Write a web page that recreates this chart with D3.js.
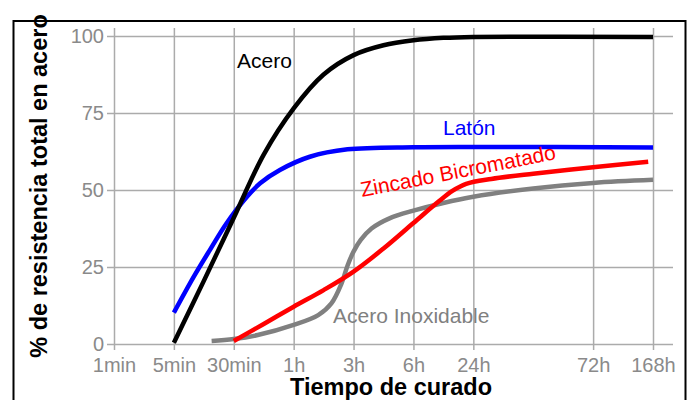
<!DOCTYPE html>
<html>
<head>
<meta charset="utf-8">
<script src="https://cdn.jsdelivr.net/npm/d3@7"></script>
<style>
  body { margin: 0; background: #fff; }
  svg { display: block; font-family: "Liberation Sans", Arial, sans-serif; }
  .axis text { fill: #8a8a8a; font-size: 20px; }
  .axis line { stroke: #ababab; stroke-width: 1.5; }
  .axis-title { font-weight: bold; font-size: 23.5px; fill: #000; }
  .curve { fill: none; stroke-width: 4.5; }
  .curve-label { font-size: 21px; }
</style>
</head>
<body>
<svg id="chart" width="692" height="400"></svg>
<script>
// x positions are slots on the time axis (72h sits two slots after 24h)
const tickLabels = ['1min', '5min', '30min', '1h', '3h', '6h', '24h', '72h', '168h'];
const tickSlots  = [0, 1, 2, 3, 4, 5, 6, 8, 9];
const yTicks = [0, 25, 50, 75, 100];

// [slot, % of steel strength]
const acero = [[1, 0.4], [1.5, 20.5], [2, 41], [2.5, 61.5], [3, 76.5], [3.5, 87.5],
  [4, 93.8], [4.5, 97], [5, 98.6], [5.5, 99.4], [6, 99.7], [9, 99.7]];
const laton = [[1, 10.2], [1.33, 21.8], [1.6, 30.5], [1.88, 39.2], [2.22, 47.8], [2.44, 52.2],
  [2.77, 56.5], [3.27, 60.8], [3.9, 63.2], [5, 63.9], [6, 64], [9, 63.8]];
const zincado = [[2, 1], [2.5, 6.5], [3, 12.1], [3.5, 17.5], [4, 23.5], [4.5, 31],
  [5, 39.3], [5.43, 46.4], [5.65, 49.7], [5.88, 52], [6.3, 53.6], [7, 55.3],
  [8, 57.4], [8.92, 59.2]];
const inoxidable = [[1.63, 1], [2, 1.6], [2.4, 2.9], [3, 6.2], [3.41, 9.4], [3.63, 13.2],
  [3.8, 19.7], [3.9, 25.5], [4, 30], [4.12, 33.8], [4.3, 37.5], [4.6, 40.8], [5, 43.3],
  [5.5, 45.8], [6, 47.8], [7, 50.5], [8, 52.3], [9, 53.3]];

const svg = d3.select('#chart');

const x = d3.scaleLinear().domain([0, 9]).range([114, 653]);
const y = d3.scaleLinear().domain([0, 100]).range([344, 36]);

// outer frame
svg.append('rect')
  .attr('x', 13.5).attr('y', 21).attr('width', 672).attr('height', 400)
  .attr('fill', 'none').attr('stroke', '#000').attr('stroke-width', 2);

// gridlines via axes (ticks run across whole plot, a bit past the edges)
const gridLeft = 107, gridRight = 673, gridTop = 28, gridBottom = 350;

const yAxis = d3.axisLeft(y)
  .tickValues(yTicks)
  .tickSize(gridRight - gridLeft)
  .tickPadding(3);
svg.append('g')
  .attr('class', 'axis y-axis')
  .attr('transform', `translate(${gridRight},0)`)
  .call(yAxis)
  .call(g => g.select('.domain').remove());

const xAxis = d3.axisBottom(x)
  .tickValues(tickSlots)
  .tickFormat((d, i) => tickLabels[i])
  .tickSize(gridBottom - gridTop)
  .tickPadding(8);
svg.append('g')
  .attr('class', 'axis x-axis')
  .attr('transform', `translate(0,${gridTop})`)
  .call(xAxis)
  .call(g => g.select('.domain').remove());

svg.selectAll('.axis').attr('font-size', null).attr('font-family', null);

// curves
const line = d3.line()
  .x(d => x(d[0]))
  .y(d => y(d[1]))
  .curve(d3.curveCatmullRom.alpha(0.5));

const series = [
  {name: 'Acero Inoxidable', data: inoxidable, colour: '#808080'},
  {name: 'Zincado Bicromatado', data: zincado, colour: '#ff0000'},
  {name: 'Latón', data: laton, colour: '#0000ff'},
  {name: 'Acero', data: acero, colour: '#000000'}
];

svg.selectAll('path.curve').data(series).join('path')
  .attr('class', 'curve')
  .attr('stroke', d => d.colour)
  .attr('d', d => line(d.data));

// curve labels
svg.append('text').attr('class', 'curve-label')
  .attr('x', 237).attr('y', 68).attr('fill', '#000').text('Acero');
svg.append('text').attr('class', 'curve-label')
  .attr('x', 443).attr('y', 135).attr('fill', '#0000ff').text('Latón');
svg.append('text').attr('class', 'curve-label')
  .attr('transform', 'translate(362,197) rotate(-11)')
  .attr('fill', '#ff0000').text('Zincado Bicromatado');
svg.append('text').attr('class', 'curve-label')
  .attr('x', 333).attr('y', 323).attr('fill', '#808080').text('Acero Inoxidable');

// axis titles
svg.append('text').attr('class', 'axis-title')
  .attr('x', 391).attr('y', 395)
  .attr('text-anchor', 'middle')
  .text('Tiempo de curado');

svg.append('text').attr('class', 'axis-title')
  .attr('transform', 'translate(47,186) rotate(-90)')
  .attr('text-anchor', 'middle')
  .text('% de resistencia total en acero');
</script>
</body>
</html>
